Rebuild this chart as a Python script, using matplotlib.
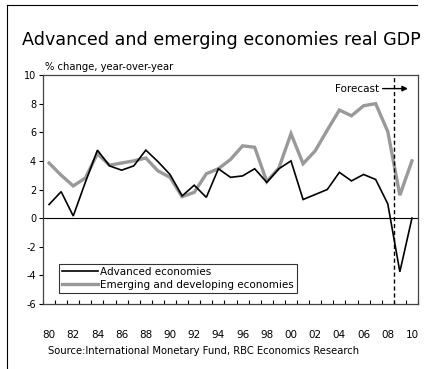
import matplotlib
matplotlib.use("Agg")
import matplotlib.pyplot as plt
from matplotlib.lines import Line2D

years = list(range(1980, 2011))
year_labels = ["80", "82", "84", "86", "88", "90", "92", "94", "96", "98",
               "00", "02", "04", "06", "08", "10"]
advanced = [0.95, 1.85, 0.15, 2.5, 4.75, 3.65, 3.35, 3.65, 4.75, 3.95,
            3.05, 1.55, 2.3, 1.45, 3.45, 2.85, 2.95, 3.45, 2.5, 3.45,
            4.0, 1.3, 1.65, 2.0, 3.2, 2.6, 3.05, 2.7, 1.0, -3.75, 0.0]
emerging = [3.85, 3.0, 2.25, 2.8, 4.5, 3.7, 3.85, 4.0, 4.2, 3.3,
            2.85, 1.5, 1.8, 3.1, 3.45, 4.1, 5.05, 4.95, 2.55, 3.5,
            5.9, 3.8, 4.7, 6.15, 7.55, 7.15, 7.85, 8.0, 6.05, 1.6, 4.0]
series_names = ["Advanced economies", "Emerging and developing economies"]
forecast_boundary = 28.5  # between 2008 and 2009 categories

plt.rcParams['font.family'] = ['DejaVu Sans']

fig = plt.figure(figsize=(4.46, 3.69), dpi=100)
ax = fig.add_axes([43/446, 1-304/369, (418-43)/446, (304-75)/369])

x = list(range(len(years)))
ax.plot(x, emerging, color='#999999', lw=2.4, solid_joinstyle='miter', zorder=3)
ax.plot(x, advanced, color='black', lw=1.2, solid_joinstyle='miter', zorder=4)
ax.axhline(0, color='black', lw=0.8, zorder=2)
ax.axvline(forecast_boundary, color='black', lw=1.0, ls=(0, (3, 2)), zorder=5)

ax.set_xlim(-0.5, len(years) - 0.5)
ax.set_ylim(-6, 10)
ax.set_yticks(range(-6, 11, 2))
ax.set_yticklabels([str(v) for v in range(-6, 11, 2)], fontsize=7)
ax.tick_params(axis='y', direction='out', length=3, width=0.8, pad=2)

ax.set_xticks(x[::2])
ax.set_xticklabels(year_labels, fontsize=7.5)
ax.set_xticks([i - 0.5 for i in range(len(years) + 1)], minor=True)
ax.tick_params(axis='x', which='major', length=0, pad=19)
ax.tick_params(axis='x', which='minor', direction='in', length=3, width=0.8)

for s in ax.spines.values():
    s.set_color('#444444')
    s.set_linewidth(0.9)

# legend
handles = [Line2D([], [], color='black', lw=1.2),
           Line2D([], [], color='#999999', lw=2.4)]
leg = ax.legend(handles, series_names, loc='lower left',
                bbox_to_anchor=((59-43)/375, (304-293)/229), fontsize=7.5,
                frameon=True, fancybox=False, edgecolor='black',
                handlelength=3.4, handletextpad=0.2, borderpad=0.3,
                labelspacing=0.3, borderaxespad=0)
leg.get_frame().set_linewidth(0.8)

# forecast annotation
ax.annotate('', xy=(29.9, 9.05), xytext=(27.35, 9.05),
            arrowprops=dict(arrowstyle='-|>', color='black', lw=1.0,
                            mutation_scale=8))
ax.text(27.3, 9.05, 'Forecast', ha='right', va='center', fontsize=7.5)

fig.text(22/446, 1-40/369, 'Advanced and emerging economies real GDP',
         fontsize=12.6, ha='left', va='center')
fig.text(45/446, 1-67/369, '% change, year-over-year', fontsize=7.2,
         ha='left', va='center')
fig.text(48/446, 1-351/369,
         'Source:International Monetary Fund, RBC Economics Research',
         fontsize=7.2, ha='left', va='center')

# page frame
fig.add_artist(Line2D([7/446, 7/446], [0, 1-5/369], color='black', lw=0.8))
fig.add_artist(Line2D([7/446, 417/446], [1-5/369, 1-5/369], color='black', lw=0.8))

fig.savefig('out.png', dpi=100)
